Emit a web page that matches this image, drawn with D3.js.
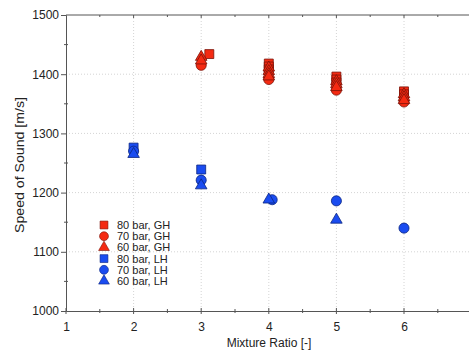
<!DOCTYPE html>
<html><head><meta charset="utf-8">
<script src="https://cdn.jsdelivr.net/npm/d3@7"></script>
<style>
html,body{margin:0;padding:0;background:#fff;}
svg{display:block;font-family:"Liberation Sans",Arial,sans-serif;}
</style></head>
<body>
<script>
// ---- data ----
const xTicks = [1, 2, 3, 4, 5, 6];
const yTicks = [1000, 1100, 1200, 1300, 1400, 1500];

const gh80_x = [3.12, 4, 4, 4, 5, 5, 5, 6, 6];
const gh80_y = [1434, 1418, 1413, 1408, 1396, 1391, 1386, 1371, 1366];
const gh70_x = [3, 4, 5, 6];
const gh70_y = [1415, 1391, 1373, 1353];
const gh60_x = [3, 3, 4, 4, 4, 4, 5, 5, 5, 6, 6, 6];
const gh60_y = [1429, 1423, 1411, 1405, 1400, 1396, 1388, 1383, 1378, 1366, 1361, 1356];

const lh80_x = [2, 3];
const lh80_y = [1276, 1239];
const lh70_x = [2, 3, 4.05, 5, 6];
const lh70_y = [1270, 1221, 1188, 1186, 1140];
const lh60_x = [2, 3, 4, 5];
const lh60_y = [1265, 1212, 1188, 1154];

const seriesNames = ["80 bar, GH", "70 bar, GH", "60 bar, GH", "80 bar, LH", "70 bar, LH", "60 bar, LH"];

// ---- setup ----
const W = 469, H = 352;
const svg = d3.select("body").append("svg").attr("width", W).attr("height", H);
const x = d3.scaleLinear().domain([1, 7]).range([66, 471.6]);
const y = d3.scaleLinear().domain([1000, 1500]).range([311, 15]);

const RED = "#f42a12", RED_S = "#7a1208";
const BLUE = "#1a4cf0", BLUE_S = "#0a2480";

const series = [
  {name: seriesNames[0], xs: gh80_x, ys: gh80_y, sym: d3.symbolSquare, size: 80, fill: RED, stroke: RED_S},
  {name: seriesNames[1], xs: gh70_x, ys: gh70_y, sym: d3.symbolCircle, size: 80, fill: RED, stroke: RED_S},
  {name: seriesNames[2], xs: gh60_x, ys: gh60_y, sym: d3.symbolTriangle, size: 58, fill: RED, stroke: RED_S},
  {name: seriesNames[3], xs: lh80_x, ys: lh80_y, sym: d3.symbolSquare, size: 80, fill: BLUE, stroke: BLUE_S},
  {name: seriesNames[4], xs: lh70_x, ys: lh70_y, sym: d3.symbolCircle, size: 80, fill: BLUE, stroke: BLUE_S},
  {name: seriesNames[5], xs: lh60_x, ys: lh60_y, sym: d3.symbolTriangle, size: 58, fill: BLUE, stroke: BLUE_S}
];

// grid
const grid = svg.append("g");
grid.selectAll("line.vx").data(xTicks.filter(d => d > 1)).join("line")
  .attr("x1", d => x(d)).attr("x2", d => x(d)).attr("y1", y(1500)).attr("y2", y(1000))
  .attr("stroke", "#d4d4d4").attr("stroke-width", 1).attr("stroke-dasharray", "1,2");
grid.selectAll("line.hy").data(yTicks.filter(d => d > 1000 && d < 1500)).join("line")
  .attr("x1", x(1)).attr("x2", W).attr("y1", d => y(d)).attr("y2", d => y(d))
  .attr("stroke", "#d4d4d4").attr("stroke-width", 1).attr("stroke-dasharray", "1,2");

// axes
const axisCol = "#555";
const bottom = svg.append("g").attr("transform", `translate(0,${y(1000)})`)
  .call(d3.axisBottom(x).tickValues(xTicks).tickFormat(d3.format("d")).tickSize(0).tickPadding(11));
bottom.select(".domain").attr("stroke", axisCol);
bottom.selectAll("text").attr("font-size", 12).attr("fill", "#222").attr("font-family", "Liberation Sans, Arial, sans-serif");
const xMinor = d3.range(1, 7.01, 0.5);
svg.append("g").selectAll("line").data(xMinor).join("line")
  .attr("x1", d => x(d)).attr("x2", d => x(d))
  .attr("y1", d => y(1000) - (Number.isInteger(d) ? 3 : 2))
  .attr("y2", d => y(1000) + (Number.isInteger(d) ? 3 : 2))
  .attr("stroke", axisCol);

// top border
svg.append("line").attr("x1", x(1)).attr("x2", W).attr("y1", y(1500)).attr("y2", y(1500)).attr("stroke", axisCol);
svg.append("g").selectAll("line").data(xMinor.filter(d => d > 1)).join("line")
  .attr("x1", d => x(d)).attr("x2", d => x(d))
  .attr("y1", y(1500)).attr("y2", d => y(1500) + (Number.isInteger(d) ? 3 : 2))
  .attr("stroke", axisCol);

const left = svg.append("g").attr("transform", `translate(${x(1)},0)`)
  .call(d3.axisLeft(y).tickValues(yTicks).tickFormat(d3.format("d")).tickSize(5).tickPadding(2));
left.select(".domain").attr("stroke", axisCol);
left.selectAll(".tick line").attr("stroke", axisCol);
left.selectAll("text").attr("font-size", 12).attr("fill", "#222").attr("font-family", "Liberation Sans, Arial, sans-serif");
svg.append("g").selectAll("line").data(d3.range(1050, 1500, 100)).join("line")
  .attr("x1", x(1) - 2).attr("x2", x(1) + 2)
  .attr("y1", d => y(d)).attr("y2", d => y(d)).attr("stroke", axisCol);

// axis titles
svg.append("text").attr("x", 269).attr("y", 347).attr("text-anchor", "middle")
  .attr("font-size", 12).attr("fill", "#222").text("Mixture Ratio [-]");
svg.append("text").attr("transform", "translate(24,165) rotate(-90)").attr("text-anchor", "middle")
  .attr("font-size", 12).attr("fill", "#222")
  .attr("textLength", 136).attr("lengthAdjust", "spacingAndGlyphs")
  .text("Speed of Sound [m/s]");

// points
const pts = svg.append("g");
series.forEach(s => {
  const data = s.xs.map((v, i) => [v, s.ys[i]]);
  pts.append("g").selectAll("path").data(data).join("path")
    .attr("d", d3.symbol().type(s.sym).size(s.size))
    .attr("transform", d => `translate(${x(d[0])},${y(d[1])})`)
    .attr("fill", s.fill).attr("stroke", s.stroke).attr("stroke-width", 0.8);
});

// legend
const leg = svg.append("g");
series.forEach((s, i) => {
  const yy = 225 + i * 11.2;
  leg.append("path")
    .attr("d", d3.symbol().type(s.sym).size(s.sym === d3.symbolTriangle ? 50 : 62)())
    .attr("transform", `translate(104,${yy})`)
    .attr("fill", s.fill).attr("stroke", s.stroke).attr("stroke-width", 0.6);
  leg.append("text").attr("x", 117).attr("y", yy + 4).attr("font-size", 11)
    .attr("fill", "#222").text(s.name);
});
</script>
</body></html>
